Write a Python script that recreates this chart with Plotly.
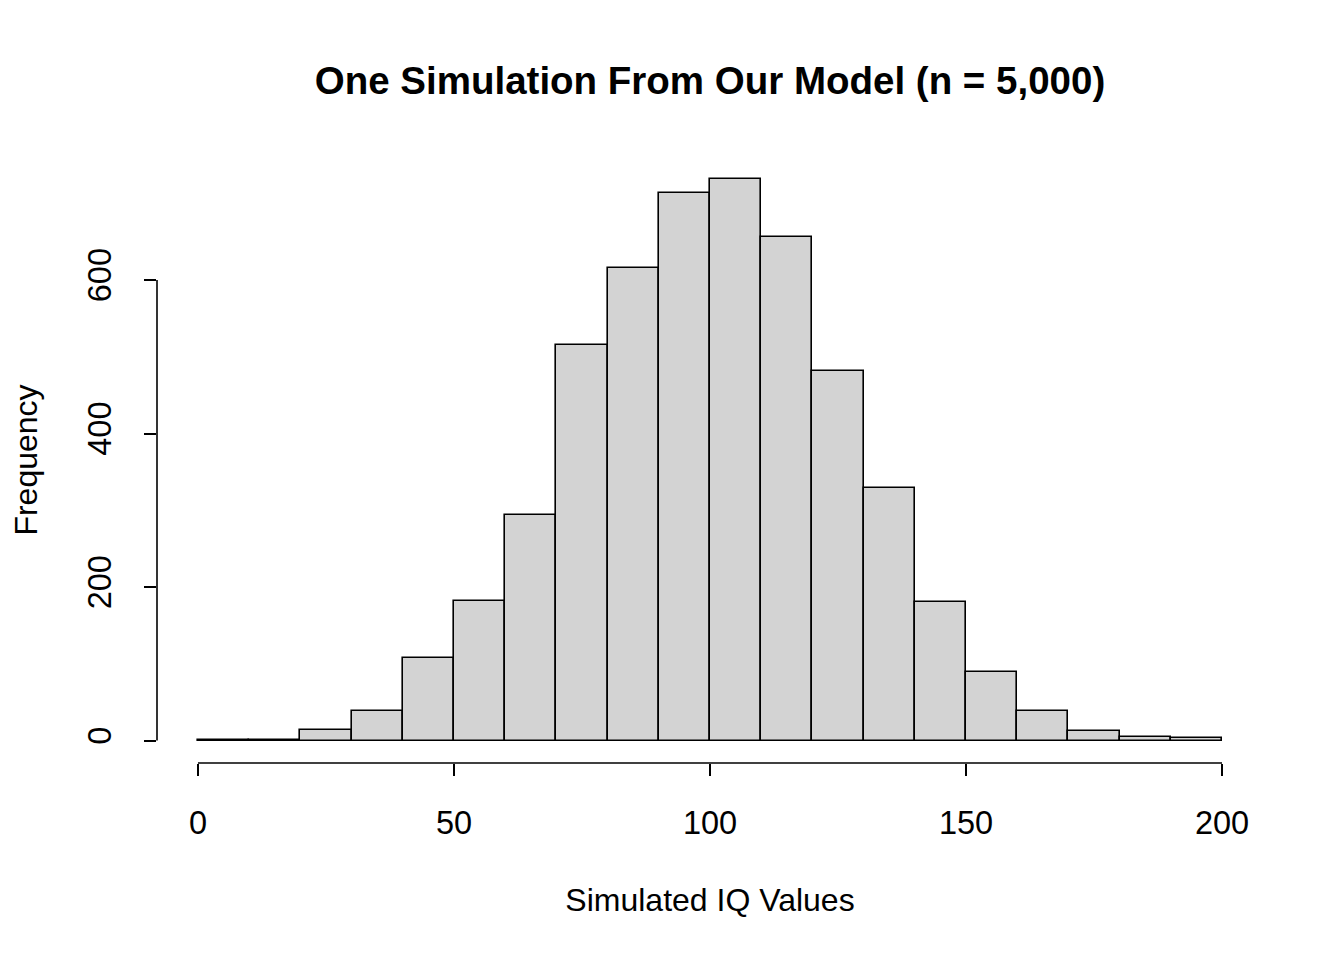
import plotly.graph_objects as go

bin_left = [0, 10, 20, 30, 40, 50, 60, 70, 80, 90, 100, 110, 120, 130, 140, 150, 160, 170, 180, 190]
counts = [1, 1, 14, 39, 108, 182, 294, 515, 616, 713, 731, 656, 481, 329, 181, 89, 38, 13, 5, 3]
bin_width = 10
x_ticks = [0, 50, 100, 150, 200]
y_ticks = [0, 200, 400, 600]

FONT = "Liberation Sans, Arial, sans-serif"

centers = [b + bin_width / 2 for b in bin_left]

fig = go.Figure()
fig.add_trace(go.Bar(
    x=centers, y=counts, width=[bin_width] * len(counts),
    marker=dict(color="#D3D3D3", line=dict(color="black", width=1.6)),
    hoverinfo="x+y", showlegend=False,
))

xmin, xmax = min(x_ticks), max(x_ticks)
xpad = 0.04 * (xmax - xmin)
ymax_data = max(counts)
ypad = 0.04 * ymax_data

fig.update_layout(
    width=1344, height=960,
    margin=dict(l=149, r=89, t=149, b=205),
    paper_bgcolor="white", plot_bgcolor="white",
    font=dict(family=FONT, size=32, color="black"),
    title=dict(text="<b>One Simulation From Our Model (n = 5,000)</b>",
               x=(149 + 1255) / 2 / 1344, xanchor="center", y=1 - 73 / 960, yanchor="middle",
               font=dict(family=FONT, size=38.5, color="black")),
    bargap=0,
    xaxis=dict(range=[xmin - xpad, xmax + xpad], tickmode="array", tickvals=x_ticks,
               ticks="outside", ticklen=12, tickwidth=1.6, tickcolor="black",
               showgrid=False, zeroline=False, showline=False,
               tickfont=dict(size=32.5), ticklabelstandoff=19,
               title=dict(text="Simulated IQ Values", font=dict(size=32), standoff=48)),
    yaxis=dict(range=[-ypad, ymax_data + ypad], tickmode="array", tickvals=y_ticks,
               ticks="outside", ticklen=12, tickwidth=1.6, tickcolor="black",
               showgrid=False, zeroline=False, showline=False, tickangle=-90,
               tickfont=dict(size=32.5), ticklabelstandoff=20,
               title=dict(text="Frequency", font=dict(size=32), standoff=37)),
    shapes=[
        dict(type="line", xref="x", yref="paper", x0=xmin, x1=xmax, y0=0, y1=0,
             line=dict(color="black", width=1.6)),
        dict(type="line", xref="paper", yref="y", x0=0, x1=0, y0=min(y_ticks), y1=max(y_ticks),
             line=dict(color="black", width=1.6)),
    ],
)

fig.write_html("out.html")
